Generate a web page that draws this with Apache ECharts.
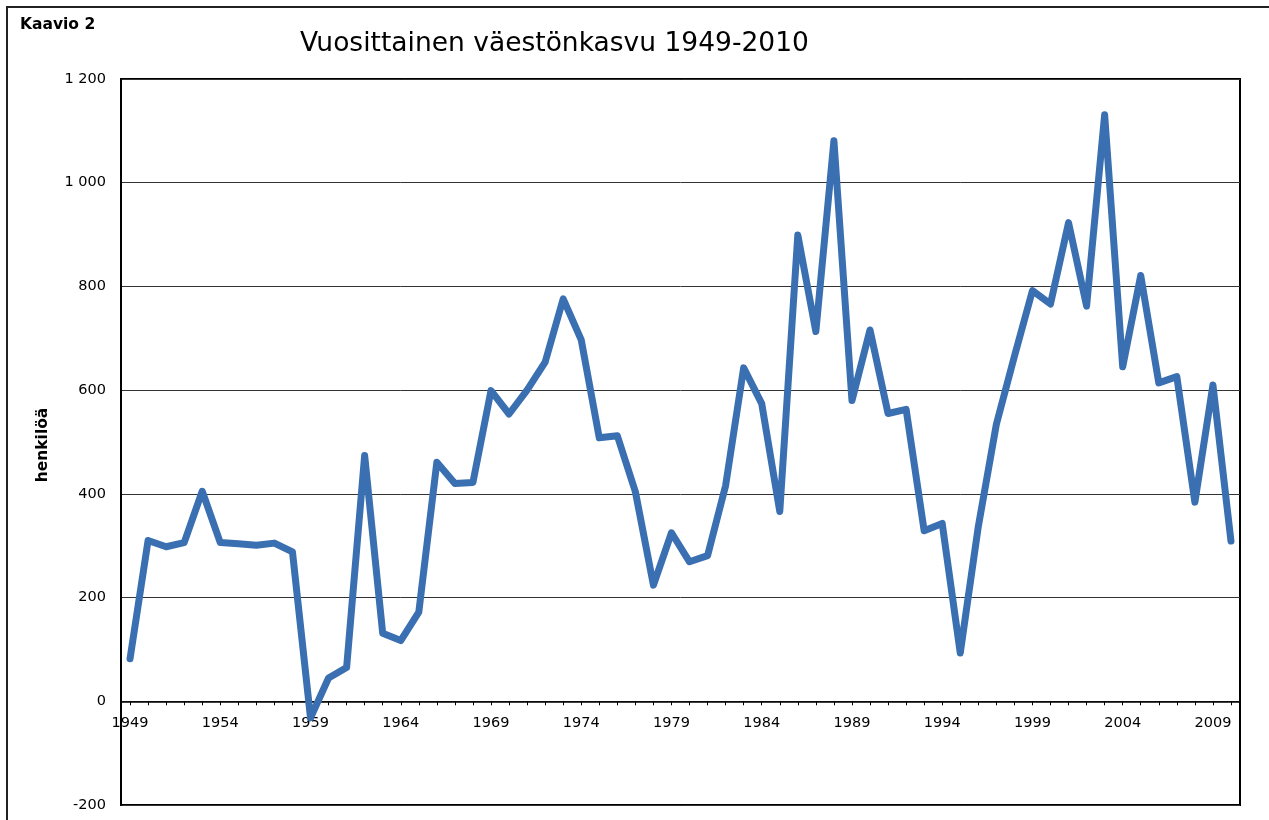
<!DOCTYPE html>
<html>
<head>
<meta charset="utf-8">
<script src="https://cdn.jsdelivr.net/npm/echarts@6/dist/echarts.min.js"></script>
<style>
  html, body { margin: 0; padding: 0; background: #fff; }
  #chart { width: 1269px; height: 820px; }
</style>
</head>
<body>
<div id="chart"></div>
<script>
const years = [];
for (let y = 1949; y <= 2010; y++) years.push(String(y));

const growth = [
  82, 310, 298, 306, 405, 306, 304, 301, 305, 288,
  -32, 45, 65, 474, 131, 117, 172, 461, 420, 422,
  599, 554, 600, 654, 776, 697, 508, 512, 404, 224,
  325, 269, 281, 416, 643, 574, 366, 899, 713, 1081,
  580, 716, 555, 563, 329, 343, 93, 337, 534, 665,
  792, 766, 923, 762, 1131, 645, 821, 614, 626, 384,
  610, 309
];

const yTicks = { min: -200, max: 1200, interval: 200 };

const titleText = 'Vuosittainen väestönkasvu 1949-2010';
const chartLabel = 'Kaavio 2';
const yName = 'henkilöä';

const GRID_TOP = 79, GRID_BOTTOM = 15, H = 820;
const plotH = H - GRID_TOP - GRID_BOTTOM;
// distance from bottom of plot to the zero line, computed from the axis range
const zeroOffset = plotH * (0 - yTicks.min) / (yTicks.max - yTicks.min);

const chart = echarts.init(document.getElementById('chart'), null, { renderer: 'canvas' });

chart.setOption({
  animation: false,
  backgroundColor: '#fff',
  textStyle: { fontFamily: 'DejaVu Sans' },
  title: {
    text: titleText,
    left: 300,
    top: 31,
    padding: 0,
    textStyle: { fontSize: 26.5, fontWeight: 'normal', color: '#000', fontFamily: 'DejaVu Sans' }
  },
  graphic: [
    {
      type: 'rect',
      shape: { x: 7, y: 7, width: 1400, height: 1000 },
      style: { fill: 'none', stroke: '#222', lineWidth: 2 },
      silent: true
    },
    {
      type: 'text',
      left: 20,
      top: 17,
      style: { text: chartLabel, font: 'bold 15.5px "DejaVu Sans"', fill: '#000' }
    },
    {
      type: 'text',
      x: 43,
      y: 445,
      rotation: Math.PI / 2,
      style: {
        text: yName, font: 'bold 15.5px "DejaVu Sans"', fill: '#000',
        align: 'center', verticalAlign: 'middle'
      }
    }
  ],
  grid: {
    left: 121, right: 29, top: GRID_TOP, bottom: GRID_BOTTOM,
    show: true, borderColor: '#000', borderWidth: 2, backgroundColor: 'transparent'
  },
  xAxis: {
    type: 'category',
    data: years,
    boundaryGap: true,
    offset: -zeroOffset,
    axisLine: { onZero: false, lineStyle: { color: '#000', width: 1.5 } },
    axisTick: { show: true, alignWithLabel: true, interval: 0, length: 4, lineStyle: { color: '#000', width: 1 } },
    axisLabel: { interval: 4, color: '#000', fontSize: 14.5, fontFamily: 'DejaVu Sans', margin: 14 },
    splitLine: { show: false }
  },
  yAxis: {
    type: 'value',
    min: yTicks.min, max: yTicks.max, interval: yTicks.interval,
    axisLine: { show: true, lineStyle: { color: '#000', width: 2 } },
    axisTick: { show: false },
    axisLabel: {
      color: '#000', fontSize: 14.5, fontFamily: 'DejaVu Sans', margin: 15,
      formatter: v => {
        const s = String(Math.abs(v)).replace(/\B(?=(\d{3})+(?!\d))/g, ' ');
        return (v < 0 ? '-' : '') + s;
      }
    },
    splitLine: { show: true, lineStyle: { color: '#333', width: 1 } }
  },
  series: [{
    type: 'line',
    data: growth,
    symbol: 'none',
    lineStyle: { color: '#3a70b1', width: 7, join: 'round', cap: 'round' },
    itemStyle: { color: '#3a70b1' }
  }]
});
</script>
</body>
</html>
